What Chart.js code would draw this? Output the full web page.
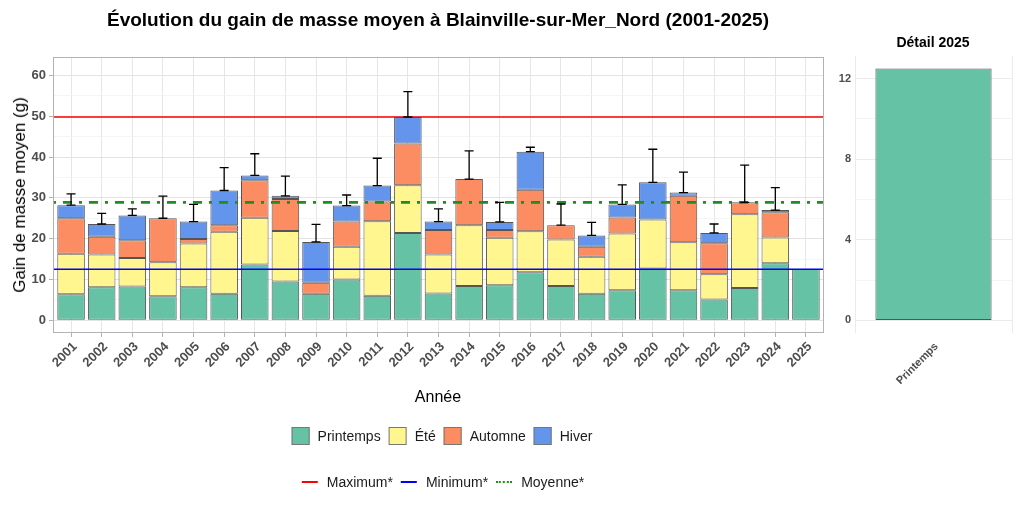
<!DOCTYPE html>
<html>
<head>
<meta charset="utf-8">
<script src="https://cdn.jsdelivr.net/npm/chart.js@4.4.1/dist/chart.umd.min.js"></script>
<style>
  body { margin: 0; background: #fff; font-family: "Liberation Sans", Arial, sans-serif; }
  #wrap { position: relative; width: 1024px; height: 512px; overflow: hidden; }
  .box { position: absolute; top: 0; height: 512px; }
  .txt { position: absolute; white-space: nowrap; color: #000; }
  .legend { position: absolute; display: flex; align-items: center; transform: translate(-50%, -50%); font-size: 14px; color: #1a1a1a; }
  .key { width: 18px; height: 18px; border: 1px solid #777; box-sizing: border-box; margin-right: 8px; }
  .lkey { width: 16px; height: 0; margin-right: 9px; }
  .item { display: flex; align-items: center; margin-right: 8px; }
</style>
</head>
<body>
<div id="wrap">
  <div class="box" style="left:0;width:830px;"><canvas id="main"></canvas></div>
  <div class="box" style="left:830px;width:194px;"><canvas id="detail"></canvas></div>

  <div class="txt" style="left:438px;top:20px;transform:translate(-50%,-50%);font-weight:bold;font-size:19px;">Évolution du gain de masse moyen à Blainville-sur-Mer_Nord (2001-2025)</div>
  <div class="txt" style="left:20px;top:195px;transform:translate(-50%,-50%) rotate(-90deg);font-size:17px;">Gain de masse moyen (g)</div>
  <div class="txt" style="left:438px;top:397px;transform:translate(-50%,-50%);font-size:16px;">Année</div>
  <div class="txt" style="left:933px;top:42px;transform:translate(-50%,-50%);font-weight:bold;font-size:14px;">Détail 2025</div>

  <div class="legend" style="left:442px;top:436px;">
    <div class="item"><div class="key" style="background:#66C2A5"></div>Printemps</div>
    <div class="item"><div class="key" style="background:#FFF68F"></div>Été</div>
    <div class="item"><div class="key" style="background:#FC8D62"></div>Automne</div>
    <div class="item" style="margin-right:0"><div class="key" style="background:#6495ED"></div>Hiver</div>
  </div>
  <div class="legend" style="left:443px;top:482px;">
    <div class="item"><div class="lkey" style="border-top:2px solid #FF0000"></div>Maximum*</div>
    <div class="item"><div class="lkey" style="border-top:2px solid #0000FF"></div>Minimum*</div>
    <div class="item" style="margin-right:0"><div class="lkey" style="border-top:2px dotted #228B22"></div>Moyenne*</div>
  </div>
</div>

<script>
// ── données ──
const annees = ['2001','2002','2003','2004','2005','2006','2007','2008','2009','2010','2011','2012','2013',
                '2014','2015','2016','2017','2018','2019','2020','2021','2022','2023','2024','2025'];
const printemps = [6.4,8.1,8.3,5.9,8.1,6.5,13.7,9.5,6.5,10.0,6.0,21.4,6.6,8.4,8.6,11.8,8.4,6.5,7.4,12.7,7.4,5.1,7.9,14.0,12.6];
const ete       = [9.9,8.0,7.0,8.3,10.7,15.2,11.4,12.4,null,8.0,18.3,11.7,9.5,14.9,11.6,10.0,11.4,9.1,13.9,12.0,11.7,6.2,18.1,6.3,null];
const automne   = [8.7,4.4,4.3,10.8,1.1,1.6,9.2,7.8,2.7,6.2,4.8,10.2,6.0,11.3,1.9,10.2,3.5,2.4,3.9,null,11.4,7.6,2.9,6.2,null];
const hiver     = [3.2,3.1,6.1,null,4.3,8.5,1.2,0.8,10.0,3.9,3.9,6.5,2.1,null,2.0,9.3,null,2.8,3.2,9.1,0.8,2.5,null,0.5,null];
const erreurHaut = [31.0,26.2,27.3,30.4,28.4,37.4,40.8,35.3,23.5,30.7,39.7,56.0,27.3,41.5,28.9,42.4,28.5,24.0,33.2,41.9,36.3,23.6,38.0,32.5,null];

const maximum = 49.8;
const minimum = 12.5;
const moyenne = 28.9;

const detailSaisons = ['Printemps'];
const detailValeurs = [12.5];

const xMin = -0.59, xMax = 24.59;

const couleurs = { printemps: '#66C2A5', ete: '#FFF68F', automne: '#FC8D62', hiver: '#6495ED' };

function toXY(arr) { return arr.map((v, i) => ({ x: i, y: v })); }

function barSet(label, arr, color) {
  return {
    type: 'bar', label, data: toXY(arr), backgroundColor: color,
    borderColor: '#555', borderWidth: 1, borderSkipped: false,
    stack: 'saisons', barPercentage: 0.9, categoryPercentage: 1.0
  };
}
function hline(label, val, color, width, dash, key) {
  return {
    type: 'line', label, data: [{ x: xMin, y: val }, { x: xMax, y: val }],
    borderColor: color, borderWidth: width, borderDash: dash || [],
    pointRadius: 0, fill: false, tension: 0, stack: key, order: -1
  };
}

// cadre du panneau
const panelBorder = {
  id: 'panelBorder',
  afterDraw(chart) {
    const { ctx, chartArea: a } = chart;
    ctx.save();
    ctx.strokeStyle = '#B3B3B3';
    ctx.lineWidth = 1;
    ctx.strokeRect(a.left + 0.5, a.top + 0.5, a.right - a.left - 1, a.bottom - a.top - 1);
    ctx.restore();
  }
};

// barres d'erreur : du total empilé jusqu'à la valeur haute
const errorBars = {
  id: 'errorBars',
  afterDatasetsDraw(chart) {
    const { ctx, scales: { x, y } } = chart;
    ctx.save();
    ctx.strokeStyle = '#000';
    ctx.lineWidth = 1.3;
    erreurHaut.forEach((hi, i) => {
      if (hi == null) return;
      const total = [printemps, ete, automne, hiver].reduce((s, a) => s + (a[i] || 0), 0);
      const px = x.getPixelForValue(i);
      const y0 = y.getPixelForValue(total), y1 = y.getPixelForValue(hi);
      ctx.beginPath();
      ctx.moveTo(px, y0); ctx.lineTo(px, y1);
      ctx.moveTo(px - 4.5, y0); ctx.lineTo(px + 4.5, y0);
      ctx.moveTo(px - 4.5, y1); ctx.lineTo(px + 4.5, y1);
      ctx.stroke();
    });
    ctx.restore();
  }
};

const tickFont = { family: 'Liberation Sans', size: 13, weight: 'bold' };

new Chart(document.getElementById('main'), {
  data: {
    datasets: [
      barSet('Printemps', printemps, couleurs.printemps),
      barSet('Été', ete, couleurs.ete),
      barSet('Automne', automne, couleurs.automne),
      barSet('Hiver', hiver, couleurs.hiver),
      hline('Maximum*', maximum, '#FF0000', 1.6, null, 'max'),
      hline('Minimum*', minimum, '#0000FF', 1.6, null, 'min'),
      hline('Moyenne*', moyenne, '#228B22', 2.6, [3, 7, 9, 7], 'moy')
    ]
  },
  options: {
    responsive: true, maintainAspectRatio: false, animation: false,
    layout: { padding: { left: 0, top: 57, right: 6, bottom: 119 } },
    plugins: { legend: { display: false }, tooltip: { enabled: false } },
    scales: {
      x: {
        type: 'linear', min: xMin, max: xMax, offset: false,
        afterBuildTicks: s => { s.ticks = annees.map((a, i) => ({ value: i })); },
        afterFit: s => { s.height = 60; },
        ticks: {
          callback: v => annees[v], color: '#4D4D4D', font: tickFont,
          maxRotation: 45, minRotation: 45, padding: 2, autoSkip: false, labelOffset: 4
        },
        grid: { color: '#E6E6E6', lineWidth: 1, tickLength: 4, tickColor: '#B3B3B3', offset: false },
        border: { display: false }
      },
      y: {
        stacked: true, min: -3.1, max: 64.5,
        afterBuildTicks: s => { s.ticks = [0,5,10,15,20,25,30,35,40,45,50,55,60].map(v => ({ value: v })); },
        afterFit: s => { s.width = 53; },
        ticks: { callback: v => (v % 10 === 0 ? v : ''), color: '#4D4D4D', font: tickFont, padding: 3 },
        grid: {
          color: c => (c.tick && c.tick.value % 10 === 0 ? '#E3E3E3' : '#F0F0F0'),
          lineWidth: c => (c.tick && c.tick.value % 10 === 0 ? 1 : 0.7),
          tickLength: 4,
          tickColor: c => (c.tick && c.tick.value % 10 === 0 ? '#B3B3B3' : 'rgba(0,0,0,0)')
        },
        border: { display: false }
      }
    }
  },
  plugins: [panelBorder, errorBars]
});

new Chart(document.getElementById('detail'), {
  type: 'bar',
  data: {
    labels: detailSaisons,
    datasets: [{
      data: detailValeurs, backgroundColor: couleurs.printemps,
      borderColor: '#555', borderWidth: 1, borderSkipped: false,
      barPercentage: 0.74, categoryPercentage: 1.0
    }]
  },
  options: {
    responsive: true, maintainAspectRatio: false, animation: false,
    layout: { padding: { left: 0, top: 56, right: 12, bottom: 119 } },
    plugins: { legend: { display: false }, tooltip: { enabled: false } },
    scales: {
      x: {
        afterFit: s => { s.height = 60; },
        ticks: { color: '#4D4D4D', font: { family: 'Liberation Sans', size: 11, weight: 'bold' },
                 maxRotation: 45, minRotation: 45, padding: 7, labelOffset: 3 },
        grid: { color: '#EBEBEB', drawTicks: false },
        border: { display: false }
      },
      y: {
        min: -0.625, max: 13.125,
        afterBuildTicks: s => { s.ticks = [0,2,4,6,8,10,12].map(v => ({ value: v })); },
        afterFit: s => { s.width = 25; },
        ticks: { callback: v => (v % 4 === 0 ? v : ''), color: '#4D4D4D',
                 font: { family: 'Liberation Sans', size: 11, weight: 'bold' }, padding: 4 },
        grid: {
          color: c => (c.tick && c.tick.value % 4 === 0 ? '#EBEBEB' : '#F4F4F4'),
          drawTicks: false
        },
        border: { display: false }
      }
    }
  }
});
</script>
</body>
</html>
